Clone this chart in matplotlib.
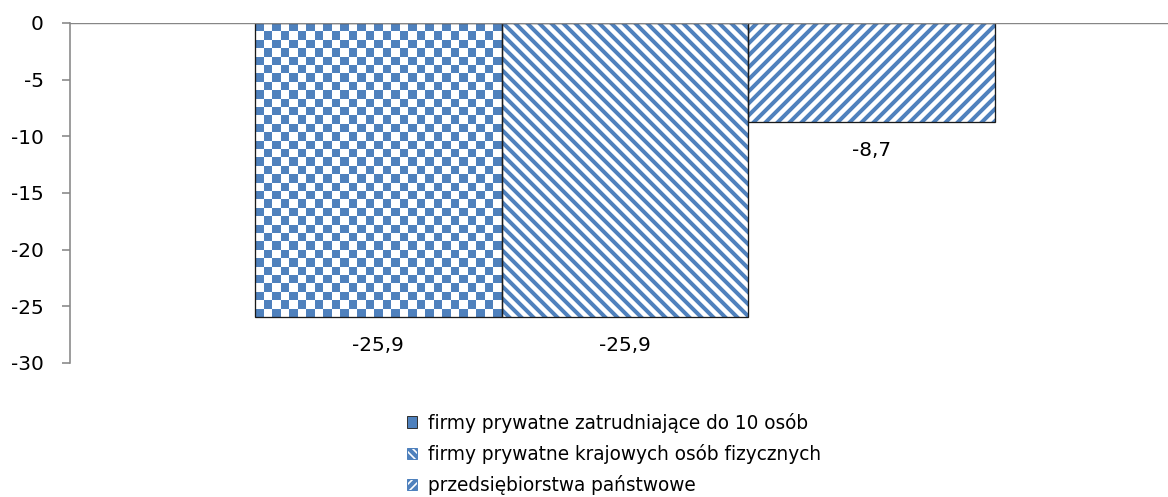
import numpy as np
import matplotlib.pyplot as plt
from matplotlib.patches import Patch

# Dane
serie = ["firmy prywatne zatrudniające do 10 osób",
         "firmy prywatne krajowych osób fizycznych",
         "przedsiębiorstwa państwowe"]
wartosci = [-25.9, -25.9, -8.7]
etykiety = ["-25,9", "-25,9", "-8,7"]
yticks = [0, -5, -10, -15, -20, -25, -30]

niebieski = "#4F81BD"
szary = "#868686"

plt.rcParams["font.family"] = "DejaVu Sans"
plt.rcParams["hatch.linewidth"] = 4.0

fig = plt.figure(figsize=(1168 / 72, 497 / 72), dpi=72)
ax = fig.add_axes([70 / 1168, 1 - 363 / 497, 1 - 70 / 1168, (363 - 23) / 497])

x = np.arange(len(wartosci)) - 1.0
szer = 1.0

# słupek 1 - szachownica (obraz przycięty do kształtu słupka)
bar0 = ax.bar(x[0], wartosci[0], width=szer, color="white", linewidth=0, zorder=2)[0]
nx, ny = 29, 35
plansza = (np.add.outer(np.arange(ny), np.arange(nx)) % 2 == 0).astype(float)
cmap = plt.matplotlib.colors.ListedColormap(["white", niebieski])
im = ax.imshow(plansza, cmap=cmap, interpolation="nearest", aspect="auto",
               extent=[x[0] - szer / 2, x[0] + szer / 2, wartosci[0], 0],
               zorder=2.5)
im.set_clip_path(bar0)

# słupki 2 i 3 - kreskowanie
ax.bar(x[1], wartosci[1], width=szer, color="white", edgecolor=niebieski,
       hatch="\\\\", linewidth=0, zorder=2)
ax.bar(x[2], wartosci[2], width=szer, color="white", edgecolor=niebieski,
       hatch="//", linewidth=0, zorder=2)

# obramowania
ax.bar(x, wartosci, width=szer, fill=False, edgecolor="#1a1a1a", linewidth=1.3, zorder=3)

for xi, v, t in zip(x, wartosci, etykiety):
    ax.annotate(t, (xi, v), xytext=(0, -29), textcoords="offset points",
                ha="center", va="center", fontsize=20)

ax.axhline(0, color=szary, linewidth=2.4, zorder=4)

ax.set_xlim((70 - 625) / 246.7, (1168 - 625) / 246.7)
ax.set_ylim(-30, 0)
ax.set_yticks(yticks)
ax.set_yticklabels([str(t) for t in yticks], fontsize=20)
ax.set_xticks([])
for s in ["top", "right", "bottom"]:
    ax.spines[s].set_visible(False)
ax.spines["left"].set_color(szary)
ax.spines["left"].set_linewidth(1.6)
ax.tick_params(axis="y", direction="out", length=8, width=1.6, color=szary, pad=18)

uchwyty = [
    Patch(facecolor=niebieski, edgecolor="#333333", linewidth=1),
    Patch(facecolor="white", edgecolor=niebieski, hatch="\\\\\\", linewidth=1),
    Patch(facecolor="white", edgecolor=niebieski, hatch="///", linewidth=1),
]
leg = fig.legend(uchwyty, serie, loc="center", bbox_to_anchor=(614 / 1168, 1 - 454 / 497),
                 frameon=False, fontsize=18.5, handlelength=0.55, handleheight=0.55,
                 handletextpad=0.6, labelspacing=0.62)

fig.savefig("out.png", dpi=72)
